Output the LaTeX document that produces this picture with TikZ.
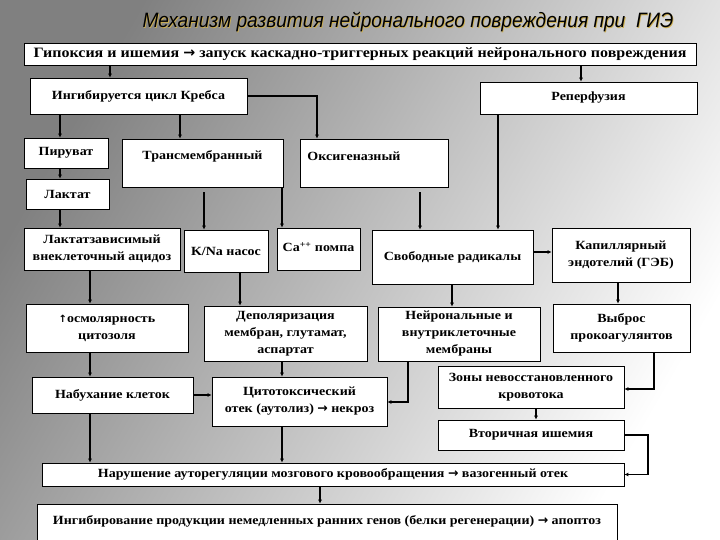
\documentclass[tikz,border=0pt]{standalone}
\usepackage{fontspec}
\setmainfont{Liberation Serif}[FakeStretch=1.12]
\newfontfamily\titlefamily{Liberation Sans}[FakeStretch=0.92]
\newfontfamily\arrfamily{DejaVu Sans}
\usetikzlibrary{arrows.meta,calc,shadings}
\newcommand\bx{\bfseries\fontsize{12.5}{17}\selectfont}
\newcommand\bigbx{\bfseries\fontsize{14.3}{17}\selectfont}
\newcommand\titlef{\titlefamily\itshape\fontsize{20.8}{22}\selectfont}
\newcommand\rarr{{\arrfamily\bfseries →}}
\newcommand\uarr{{\arrfamily\fontsize{10}{10}\selectfont ↑}}
\tikzset{
  box/.style={draw=black, line width=0.7pt, fill=white, inner sep=0pt, align=center, font=\bx},
  lbl/.style={inner sep=0pt, align=center, font=\bx},
  arr/.style={line width=1.1pt, -{Latex[length=4pt,width=4pt]}},
}
\begin{document}
\begin{tikzpicture}[x=1pt,y=-1pt]
\clip (0,0) rectangle (720,540);
\shade[top color=black!50, bottom color=white, shading angle=60] (0,0) rectangle (720,540);
% title
\node[font=\titlef, text={rgb,255:red,205;green,175;blue,80}] (titleshadow) at (408.8,23.3) {Механизм развития нейронального повреждения при\ \ ГИЭ};
\node[font=\titlef, text=black] (title) at (408,22) {Механизм развития нейронального повреждения при\ \ ГИЭ};
% boxes
\node[box, font=\bigbx, minimum width=672pt, minimum height=22pt] (top) at (360,54) {Гипоксия и ишемия \rarr\ запуск каскадно-триггерных реакций нейронального повреждения};
\node[box, minimum width=217pt, minimum height=36pt] (krebs) at (138.5,96) {Ингибируется цикл Кребса};
\node[box, minimum width=217pt, minimum height=32pt] (reperf) at (588.5,98) {Реперфузия};
\node[box, minimum width=84pt, minimum height=30pt] (pyr) at (66,153) {Пируват};
\node[box, minimum width=161pt, minimum height=48pt] (trans) at (202.5,163) {};
\node[lbl] (transT) at (202.5,156) {Трансмембранный};
\node[box, minimum width=148pt, minimum height=48pt] (oxy) at (374,163) {};
\node[lbl] (oxyT) at (354,156) {Оксигеназный};
\node[box, minimum width=83pt, minimum height=30pt] (lact) at (67.5,194) {Лактат};
\node[box, minimum width=156pt, minimum height=42pt] (acid) at (102,249) {Лактатзависимый\\внеклеточный ацидоз};
\node[box, minimum width=84pt, minimum height=42pt] (kna) at (226,251) {K/Na насос};
\node[box, minimum width=83pt, minimum height=42pt] (ca) at (318.5,249) {};
\node[lbl] (caT) at (318.5,247) {Ca\textsuperscript{++} помпа};
\node[box, minimum width=161pt, minimum height=54pt] (frad) at (452.5,257) {Свободные радикалы};
\node[box, minimum width=138pt, minimum height=54pt] (capil) at (621,255) {Капиллярный\\эндотелий (ГЭБ)};
\node[box, minimum width=162pt, minimum height=48pt] (osm) at (107,328) {\uarr осмолярность\\цитозоля};
\node[box, minimum width=163pt, minimum height=55pt] (depol) at (285.5,333.5) {Деполяризация\\мембран, глутамат,\\аспартат};
\node[box, minimum width=162pt, minimum height=54pt] (neur) at (459,334) {Нейрональные и\\внутриклеточные\\мембраны};
\node[box, minimum width=137pt, minimum height=48pt] (vyb) at (621.5,328) {Выброс\\прокоагулянтов};
\node[box, minimum width=161pt, minimum height=36pt] (swell) at (112.5,395) {Набухание клеток};
\node[box, minimum width=175pt, minimum height=49pt] (cyto) at (299.5,401.5) {Цитотоксический\\отек (аутолиз) \rarr\ некроз};
\node[box, minimum width=186pt, minimum height=42pt] (zone) at (531,387) {Зоны невосстановленного\\кровотока};
\node[box, minimum width=186pt, minimum height=30pt] (sec) at (531,435) {Вторичная ишемия};
\node[box, minimum width=582pt, minimum height=23pt] (nar) at (333,474.5) {Нарушение ауторегуляции мозгового кровообращения \rarr\ вазогенный отек};
\node[box, minimum width=580pt, minimum height=46pt] (ingb) at (327,527) {};
\node[lbl] (ingbT) at (327,521) {Ингибирование продукции немедленных ранних генов (белки регенерации) \rarr\ апоптоз};
% helper coordinates
\foreach \n/\x in {a/110,b/581,c/60,d/180,e/317,f/204,g/282,h/420,i/498,j/90,k/240,l/452,m/618,n/408,o/654,p/536,q/648,r/320}
  \coordinate (v\n) at (\x,0);
\foreach \n/\y in {a/252,b/402,c/389}
  \coordinate (h\n) at (0,\y);
% connectors
\draw[arr] (va |- top.south) -- (va |- krebs.north);
\draw[arr] (vb |- top.south) -- (vb |- reperf.north);
\draw[arr] (vc |- krebs.south) -- (vc |- pyr.north);
\draw[arr] (vd |- krebs.south) -- (vd |- trans.north);
\draw[arr] (krebs.east) -- (ve |- krebs.east) -- (ve |- oxy.north);
\draw[arr] (vc |- pyr.south) -- (vc |- lact.north);
\draw[arr] (vc |- lact.south) -- (vc |- acid.north);
\draw[arr, shorten <=5pt] (vf |- trans.south) -- (vf |- kna.north);
\draw[arr] (vg |- trans.south) -- (vg |- ca.north);
\draw[arr, shorten <=5pt] (vh |- oxy.south) -- (vh |- frad.north);
\draw[arr] (vi |- reperf.south) -- (vi |- frad.north);
\draw[arr] (frad.east |- ha) -- (capil.west |- ha);
\draw[arr] (vj |- acid.south) -- (vj |- osm.north);
\draw[arr] (vk |- kna.south) -- (vk |- depol.north);
\draw[arr] (vl |- frad.south) -- (vl |- neur.north);
\draw[arr] (vm |- capil.south) -- (vm |- vyb.north);
\draw[arr] (vj |- osm.south) -- (vj |- swell.north);
\draw[arr] (vg |- depol.south) -- (vg |- cyto.north);
\draw[arr] (swell.east) -- (swell.east -| cyto.west);
\draw[arr] (vn |- neur.south) -- (vn |- hb) -- (cyto.east |- hb);
\draw[arr] (vo |- vyb.south) -- (vo |- hc) -- (zone.east |- hc);
\draw[arr] (vp |- zone.south) -- (vp |- sec.north);
\draw[arr] (sec.east) -- (vq |- sec.east) -- (vq |- nar.east) -- (nar.east);
\draw[arr] (vj |- swell.south) -- (vj |- nar.north);
\draw[arr] (vg |- cyto.south) -- (vg |- nar.north);
\draw[arr] (vr |- nar.south) -- (vr |- ingb.north);
\end{tikzpicture}
\end{document}
